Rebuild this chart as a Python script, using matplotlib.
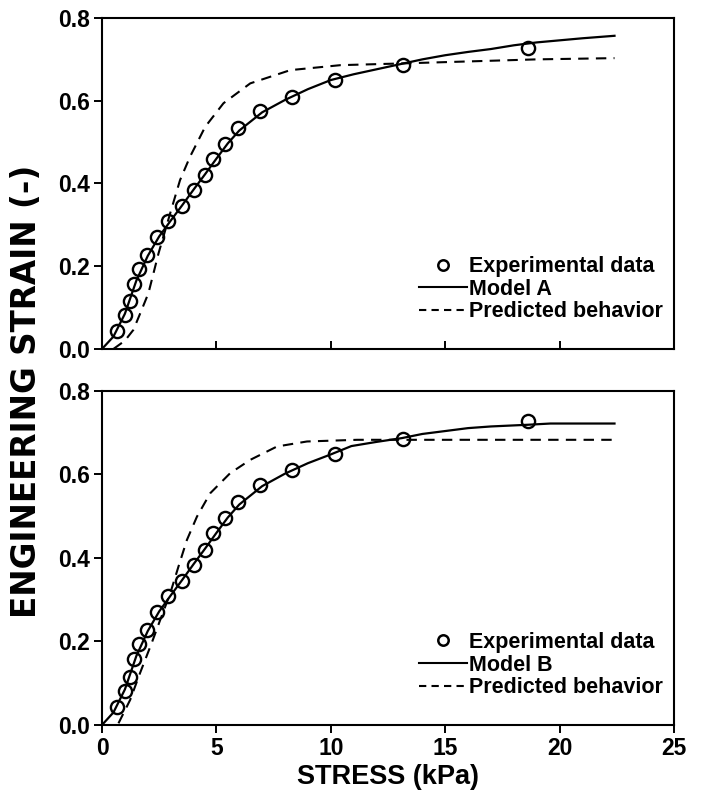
import numpy as np
import matplotlib.pyplot as plt
from matplotlib.lines import Line2D

plt.rcParams['font.family'] = ['Liberation Sans', 'DejaVu Sans']
plt.rcParams['font.weight'] = 'bold'

# experimental data (same set in both panels)
exp_stress = [0.64, 0.99, 1.23, 1.39, 1.63, 1.97, 2.39, 2.89, 3.48, 4.04, 4.48, 4.87, 5.37, 5.94, 6.92, 8.30, 10.18, 13.15, 18.6]
exp_strain = [0.043, 0.081, 0.116, 0.157, 0.193, 0.228, 0.27, 0.31, 0.346, 0.384, 0.42, 0.46, 0.496, 0.534, 0.574, 0.61, 0.65, 0.686, 0.728]

# model A (top panel)
modA_stress = [0, 0.5, 1.0, 1.5, 2.0, 2.5, 3.0, 3.5, 4.0, 4.5, 5.0, 5.5, 6.0, 7.0, 8.0, 9.0, 10.0, 11.0, 12.0, 13.0, 14.0, 15.0, 16.0, 17.0, 18.0, 19.0, 20.0, 21.0, 22.4]
modA_strain = [0, 0.03, 0.085, 0.165, 0.225, 0.272, 0.31, 0.347, 0.385, 0.422, 0.46, 0.497, 0.528, 0.572, 0.602, 0.628, 0.65, 0.664, 0.676, 0.688, 0.70, 0.71, 0.718, 0.725, 0.734, 0.741, 0.746, 0.751, 0.757]
predA_stress = [0.5, 1.0, 1.37, 1.7, 2.03, 2.47, 2.98, 3.41, 3.85, 4.51, 5.31, 6.48, 8.23, 10.42, 13.0, 16.0, 19.0, 22.4]
predA_strain = [0.0, 0.02, 0.046, 0.09, 0.135, 0.231, 0.328, 0.408, 0.465, 0.537, 0.594, 0.642, 0.674, 0.686, 0.69, 0.695, 0.70, 0.703]

# model B (bottom panel)
modB_stress = [0, 0.5, 1.0, 1.5, 2.0, 2.5, 3.0, 3.5, 4.0, 4.5, 5.0, 5.5, 6.0, 7.0, 8.0, 9.0, 10.0, 10.9, 12.0, 13.1, 14.0, 15.0, 16.0, 17.0, 18.6, 19.6, 21.0, 22.4]
modB_strain = [0, 0.03, 0.085, 0.165, 0.225, 0.272, 0.31, 0.347, 0.385, 0.422, 0.46, 0.497, 0.528, 0.572, 0.602, 0.627, 0.648, 0.668, 0.678, 0.687, 0.697, 0.704, 0.711, 0.715, 0.719, 0.722, 0.722, 0.722]
predB_stress = [0.72, 1.23, 1.66, 2.17, 2.54, 2.98, 3.34, 3.71, 4.15, 4.73, 5.60, 6.48, 7.65, 8.96, 11.15, 14.0, 18.0, 22.4]
predB_strain = [0.004, 0.06, 0.124, 0.196, 0.251, 0.315, 0.379, 0.443, 0.499, 0.555, 0.603, 0.635, 0.667, 0.679, 0.683, 0.683, 0.683, 0.683]

xticks = [0, 5, 10, 15, 20, 25]
yticks = [0.0, 0.2, 0.4, 0.6, 0.8]

fig = plt.figure(figsize=(7.02, 8), dpi=100)
ax1 = fig.add_axes([0.1453, 0.5638, 0.8148, 0.4137])
ax2 = fig.add_axes([0.1453, 0.0938, 0.8148, 0.4175])

dash = (0, (5, 3.5))

def draw(ax, ms, me, ps, pe, name):
    ax.plot(ms, me, color='black', lw=1.6)
    ax.plot(ps, pe, color='black', lw=1.5, linestyle=dash)
    ax.plot(exp_stress, exp_strain, 'o', ms=9.5, mfc='none', mec='black', mew=1.7)
    ax.set_xlim(0, 25)
    ax.set_ylim(0, 0.8)
    ax.set_yticks(yticks)
    ax.set_yticklabels(['%.1f' % v for v in yticks])
    ax.set_xticks(xticks)
    for s in ax.spines.values():
        s.set_linewidth(1.5)
    ax.tick_params(axis='both', labelsize=16.5, width=1.4, length=6, color='black', pad=3)
    handles = [Line2D([], [], marker='o', ls='none', ms=7.5, mfc='none', mec='black', mew=1.8),
               Line2D([], [], color='black', lw=1.5),
               Line2D([], [], color='black', lw=1.5, linestyle=(0, (3.5, 2.5)))]
    labels = ['Experimental data', name, 'Predicted behavior']
    ax.legend(handles, labels, loc='lower right', bbox_to_anchor=(0.98, 0.08),
              frameon=False, fontsize=15.5, handlelength=2.2, handletextpad=0.1,
              labelspacing=0.08, borderpad=0, borderaxespad=0)

draw(ax1, modA_stress, modA_strain, predA_stress, predA_strain, 'Model A')
draw(ax2, modB_stress, modB_strain, predB_stress, predB_strain, 'Model B')

ax1.tick_params(axis='x', direction='in', labelbottom=False)

fig.text(0.038, 0.511, 'ENGINEERING STRAIN (-)', rotation=90, ha='center', va='center',
         fontsize=23.5, fontweight='bold', family=['DejaVu Sans'])
fig.text(0.553, 0.029, 'STRESS (kPa)', ha='center', va='center', fontsize=19.5, fontweight='bold')

fig.savefig('out.png', dpi=100)
